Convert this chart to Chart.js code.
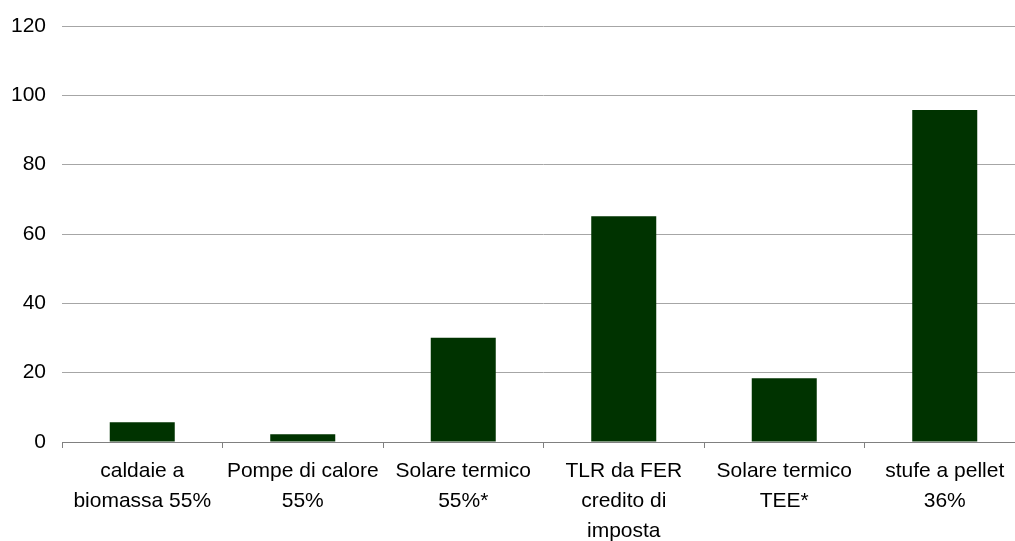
<!DOCTYPE html>
<html>
<head>
<meta charset="utf-8">
<script src="https://cdn.jsdelivr.net/npm/chart.js@4/dist/chart.umd.min.js"></script>
<style>
  html, body { margin: 0; padding: 0; background: #fff; overflow: hidden; }
  #wrap { width: 1025px; height: 541px; position: relative; }
</style>
</head>
<body>
<div id="wrap"><canvas id="c"></canvas></div>
<script>
// Categories (multi-line labels) and values
const categories = [
  ["caldaie a", "biomassa 55%"],
  ["Pompe di calore", "55%"],
  ["Solare termico", "55%*"],
  ["TLR da FER", "credito di", "imposta"],
  ["Solare termico", "TEE*"],
  ["stufe a pellet", "36%"]
];
const values = [5.7, 2.2, 30.1, 65.1, 18.4, 95.8];
const yTicks = [0, 20, 40, 60, 80, 100, 120];

const fontFamily = '"Liberation Sans", Arial, sans-serif';

new Chart(document.getElementById('c'), {
  type: 'bar',
  data: {
    labels: categories,
    datasets: [{
      data: values,
      backgroundColor: '#003300',
      borderWidth: 0,
      barPercentage: 0.405,
      categoryPercentage: 1.0
    }]
  },
  options: {
    responsive: true,
    maintainAspectRatio: false,
    animation: false,
    layout: { padding: { top: 26, left: 0, right: 0, bottom: 0 } },
    plugins: { legend: { display: false }, tooltip: { enabled: false } },
    scales: {
      x: {
        offset: true,
        afterFit: (s) => { s.height = 99; s.paddingLeft = 0; s.paddingRight = 0; },
        grid: {
          offset: true,
          drawOnChartArea: false,
          drawTicks: true,
          tickLength: 6,
          color: '#808080',
          lineWidth: 1
        },
        border: { display: true, color: '#808080', width: 1 },
        ticks: {
          color: '#000',
          font: { family: fontFamily, size: 21, lineHeight: 1.43 },
          padding: 8,
          maxRotation: 0,
          autoSkip: false
        }
      },
      y: {
        min: 0,
        max: 120,
        afterBuildTicks: (axis) => { axis.ticks = yTicks.map(v => ({ value: v })); },
        afterFit: (s) => { s.width = 62; s.paddingTop = 0; s.paddingBottom = 0; },
        grid: {
          color: (ctx) => ctx.tick && ctx.tick.value === 0 ? 'rgba(0,0,0,0)' : '#a6a6a6',
          lineWidth: 1,
          drawTicks: false
        },
        border: { display: false },
        ticks: {
          color: '#000',
          font: { family: fontFamily, size: 21 },
          padding: 16
        }
      }
    }
  }
});
</script>
</body>
</html>
